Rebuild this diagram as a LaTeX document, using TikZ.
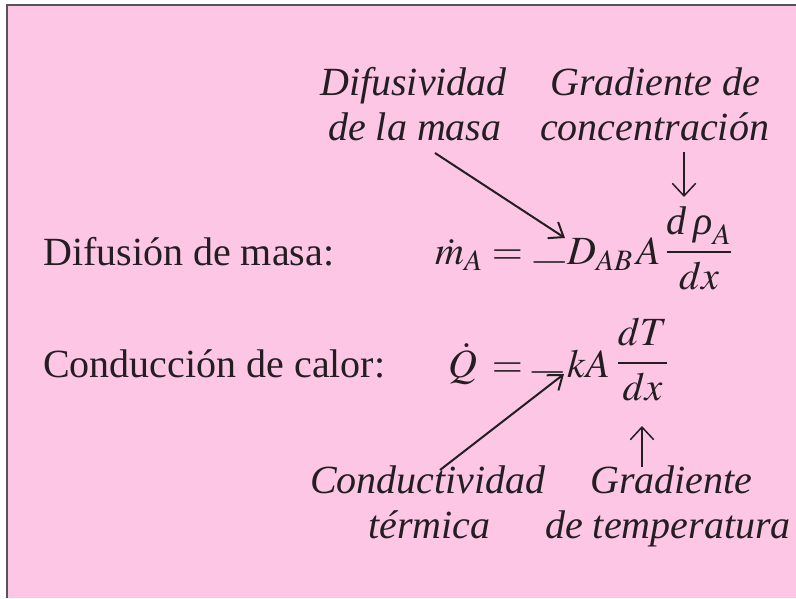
\documentclass[tikz,border=0pt]{standalone}
\usepackage{mathptmx}
\usepackage{fontspec}
\setmainfont{Liberation Serif}
\usetikzlibrary{arrows.meta}
\definecolor{bgpink}{RGB}{252,198,228}
\definecolor{ink}{RGB}{35,30,35}
\definecolor{framec}{RGB}{85,85,85}
\begin{document}
\begin{tikzpicture}[x=1pt,y=-1pt,
  lbl/.style={inner sep=0pt, anchor=base west, font=\fontsize{40}{45}\selectfont\itshape, text=ink},
  txt/.style={inner sep=0pt, anchor=base west, font=\fontsize{40}{45}\selectfont, text=ink},
  mth/.style={inner sep=0pt, anchor=base, font=\fontsize{40}{45}\selectfont, text=ink},
  ptr/.style={line width=2pt, draw=ink, -{Straight Barb[length=8pt,width=12pt,scale=1.6]}},
  vptr/.style={line width=1.5pt, draw=ink, -{Straight Barb[length=7pt,width=13pt,scale=1.8]}}]
\useasboundingbox (0,0) rectangle (796,598);
\fill[white] (0,0) rectangle (796,598);
\fill[bgpink] (7,5) rectangle (796,598);
\draw[line width=2pt, draw=framec] (7,598) -- (7,5) -- (796,5);
% row labels
\node[txt] (lm) at (43,265) {Difusión de masa:};
\node[txt] (lc) at (43,377) {Conducción de calor:};
% equation 1
\node[txt] (e1m) at (435,264) {$\dot m_A$};
\node[mth] (e1eq) at (507.5,264) {$=$};
\node[mth] (e1mi) at (550,272) {\scalebox{1.3}[1]{$-$}};
\node[txt] (e1d) at (567,264) {$D_{AB}$};
\node[txt] (e1a) at (636,264) {$A$};
\node[mth] (e1f) at (699,262) {$\displaystyle\frac{\textit{d\,ρ}_A}{dx}$};
% equation 2
\node[txt] (e2q) at (448,377) {$\dot Q$};
\node[mth] (e2eq) at (507.5,377) {$=$};
\node[mth] (e2mi) at (548,382) {\scalebox{1.3}[1]{$-$}};
\node[txt] (e2k) at (567,377) {$kA$};
\node[mth] (e2f) at (642.5,373) {$\displaystyle\frac{dT}{dx}$};
% annotation labels
\node[lbl] (dif1) at (320,95) {Difusividad};
\node[lbl] (dif2) at (328,140) {de la masa};
\node[lbl] (gc1) at (550,95) {Gradiente de};
\node[lbl] (gc2) at (540,140) {concentración};
\node[lbl] (ct1) at (310,493) {Conductividad};
\node[lbl] (ct2) at (368,538) {térmica};
\node[lbl] (gt1) at (590,493) {Gradiente};
\node[lbl] (gt2) at (545,538) {de temperatura};
% arrow end points
\coordinate (a1s) at (435,153);
\coordinate (a1e) at (565,238);
\coordinate (a2s) at (684,152);
\coordinate (a2e) at (684,197);
\coordinate (a3s) at (440,470);
\coordinate (a3e) at (564,374);
\coordinate (a4s) at (642,467);
\coordinate (a4e) at (642,426);
\draw[ptr] (a1s) -- (a1e);
\draw[vptr] (a2s) -- (a2e);
\draw[ptr] (a3s) -- (a3e);
\draw[vptr] (a4s) -- (a4e);
\end{tikzpicture}
\end{document}
